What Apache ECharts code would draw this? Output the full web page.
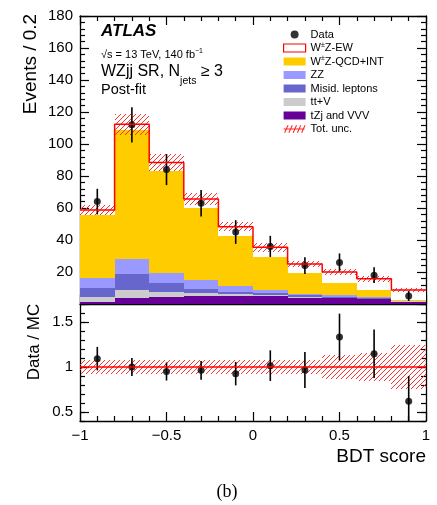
<!DOCTYPE html>
<html>
<head>
<meta charset="utf-8">
<script src="https://cdn.jsdelivr.net/npm/echarts@6/dist/echarts.min.js"></script>
<style>
  html, body { margin: 0; padding: 0; background: #fff; }
  #chart { width: 437px; height: 505px; }
</style>
</head>
<body>
<div id="chart"></div>
<script>
// ---- Binning of the BDT score ----
const binEdges = [-1, -0.8, -0.6, -0.4, -0.2, 0, 0.2, 0.4, 0.6, 0.8, 1];

// ---- Post-fit expected yields per bin (stacked bottom to top) ----
const tzjVVV  = [1.5, 3.5, 4.4, 5.0, 5.2, 5.0, 4.0, 3.7, 3.1, 1.5];
const ttV     = [3.1, 5.2, 2.9, 1.7, 1.0, 0.6, 0.3, 0.3, 0.2, 0.1];
const misid   = [5.4, 9.8, 5.6, 2.5, 1.5, 1.1, 1.1, 0.6, 0.4, 0.1];
const zz      = [6.5, 9.4, 6.3, 5.8, 3.5, 2.0, 1.1, 0.8, 0.5, 0.2];
const wzQCD   = [39.1, 80.9, 64.1, 44.8, 31.3, 20.9, 12.7, 7.9, 4.8, 0.9];
const wzEW    = [3.2, 3.6, 5.2, 5.8, 5.8, 5.8, 5.8, 6.7, 6.8, 5.95];
const totUnc  = [3.3, 6.5, 5.4, 3.7, 2.8, 2.6, 2.1, 1.8, 1.9, 1.25];

// ---- Observed data ----
const dataCounts = [64, 112, 84, 63, 45, 36, 24, 26, 18, 5];
const dataErr    = [8, 11, 9.7, 8.3, 7.4, 6.6, 5.2, 5.6, 4.9, 3.1];

// ---- Ratio panel ----
const ratioVals   = [1.093, 1.0, 0.95, 0.963, 0.926, 1.015, 0.967, 1.333, 1.148, 0.62];
const ratioErr    = [0.13, 0.1, 0.1, 0.105, 0.13, 0.17, 0.2, 0.26, 0.27, 0.28];
const ratioUncRel = [0.075, 0.075, 0.075, 0.075, 0.075, 0.075, 0.075, 0.13, 0.16, 0.245];

// ---- Axis tick labels ----
const xTickLabels = [-1, -0.5, 0, 0.5, 1];
const ratioTickLabels = [0.5, 1, 1.5];

const FONT = 'Liberation Sans, Arial, Helvetica, sans-serif';
const COLORS = {
  tzj: '#660099', ttv: '#cccccc', misid: '#6666cc', zz: '#9999ff',
  qcd: '#ffcc00', ew: '#ffffff', red: '#ff0000'
};

// Diagonal red hatch used for the uncertainty bands
function makeHatch() {
  const c = document.createElement('canvas');
  c.width = 5; c.height = 5;
  const g = c.getContext('2d');
  g.strokeStyle = '#ff3030';
  g.lineWidth = 1;
  g.beginPath();
  g.moveTo(0, 5); g.lineTo(5, 0);
  g.moveTo(-1, 1); g.lineTo(1, -1);
  g.moveTo(4, 6); g.lineTo(6, 4);
  g.stroke();
  return c;
}
const hatch = { image: makeHatch(), repeat: 'repeat' };

// Build stacked rectangles [x0, x1, yLow, yHigh] for each component
const components = [tzjVVV, ttV, misid, zz, wzQCD, wzEW];
const nBins = binEdges.length - 1;
const stackedRects = [];
const base = new Array(nBins).fill(0);
components.forEach(vals => {
  const rows = [];
  for (let i = 0; i < nBins; i++) {
    rows.push([binEdges[i], binEdges[i + 1], base[i], base[i] + vals[i]]);
    base[i] += vals[i];
  }
  stackedRects.push(rows);
});
const totals = base.slice();

const uncRects = totals.map((t, i) => [binEdges[i], binEdges[i + 1], t - totUnc[i], t + totUnc[i]]);
const totalStep = totals.map((t, i) => [binEdges[i], t]).concat([[binEdges[nBins], totals[nBins - 1]]]);
const centers = totals.map((t, i) => (binEdges[i] + binEdges[i + 1]) / 2);
const dataPts = dataCounts.map((v, i) => [centers[i], v]);
const dataBars = dataCounts.map((v, i) => [centers[i], v - dataErr[i], v + dataErr[i]]);
const ratioPts = ratioVals.map((v, i) => [centers[i], v]);
const ratioBars = ratioVals.map((v, i) => [centers[i], v - ratioErr[i], v + ratioErr[i]]);
const ratioBand = ratioUncRel.map((u, i) => [binEdges[i], binEdges[i + 1], 1 - u, 1 + u]);

function rectRenderer(fill) {
  return function (params, api) {
    const a = api.coord([api.value(0), api.value(3)]);
    const b = api.coord([api.value(1), api.value(2)]);
    const x0 = Math.round(a[0]), x1 = Math.round(b[0]);
    const y0 = Math.round(a[1]), y1 = Math.round(b[1]);
    return { type: 'rect', shape: { x: x0, y: y0, width: x1 - x0, height: y1 - y0 }, style: { fill: fill } };
  };
}
function errorBarRenderer(params, api) {
  const lo = api.coord([api.value(0), api.value(1)]);
  const hi = api.coord([api.value(0), api.value(2)]);
  return { type: 'line', shape: { x1: lo[0], y1: lo[1], x2: hi[0], y2: hi[1] },
           style: { stroke: '#000', lineWidth: 1.6 } };
}

const compNames = ['tZj and VVV', 'tt+V', 'Misid. leptons', 'ZZ', 'W\u00b1Z-QCD+INT', 'W\u00b1Z-EW'];
const compColors = [COLORS.tzj, COLORS.ttv, COLORS.misid, COLORS.zz, COLORS.qcd, COLORS.ew];

const series = [];
stackedRects.forEach((rows, k) => {
  series.push({
    name: compNames[k], type: 'custom', xAxisIndex: 0, yAxisIndex: 0,
    renderItem: rectRenderer(compColors[k]), itemStyle: { color: compColors[k] },
    encode: { x: [0, 1], y: [2, 3] }, data: rows, silent: true
  });
});
series.push({
  name: 'Tot. unc.', type: 'custom', xAxisIndex: 0, yAxisIndex: 0,
  renderItem: rectRenderer(hatch), itemStyle: { color: COLORS.red },
  encode: { x: [0, 1], y: [2, 3] }, data: uncRects, silent: true
});
series.push({
  name: 'Total', type: 'line', xAxisIndex: 0, yAxisIndex: 0, step: 'end',
  data: totalStep, symbol: 'none', lineStyle: { color: COLORS.red, width: 1.5 }, silent: true
});
series.push({
  name: 'Data error', type: 'custom', xAxisIndex: 0, yAxisIndex: 0,
  renderItem: errorBarRenderer, encode: { x: 0, y: [1, 2] }, data: dataBars, silent: true
});
series.push({
  name: 'Data', type: 'scatter', xAxisIndex: 0, yAxisIndex: 0,
  data: dataPts, symbol: 'circle', symbolSize: 7, itemStyle: { color: '#000' }, silent: true
});
// Ratio panel
series.push({
  name: 'Ratio unc.', type: 'custom', xAxisIndex: 2, yAxisIndex: 2,
  renderItem: rectRenderer(hatch), encode: { x: [0, 1], y: [2, 3] }, data: ratioBand, silent: true, clip: true
});
series.push({
  name: 'Unity', type: 'line', xAxisIndex: 2, yAxisIndex: 2,
  data: [[-1, 1], [1, 1]], symbol: 'none', lineStyle: { color: COLORS.red, width: 1.5 }, silent: true
});
series.push({
  name: 'Ratio error', type: 'custom', xAxisIndex: 2, yAxisIndex: 2, clip: true,
  renderItem: errorBarRenderer, encode: { x: 0, y: [1, 2] }, data: ratioBars, silent: true
});
series.push({
  name: 'Ratio', type: 'scatter', xAxisIndex: 2, yAxisIndex: 2,
  data: ratioPts, symbol: 'circle', symbolSize: 7, itemStyle: { color: '#000' }, silent: true
});

const axisLine = { show: true, onZero: false, lineStyle: { color: '#000', width: 1.3 } };
const tickMajor = { show: true, inside: true, length: 9, lineStyle: { color: '#000', width: 1.2 } };
const tickMinor = { show: true, length: 5, lineStyle: { color: '#000', width: 1.2 } };
const labelStyle = { color: '#000', fontFamily: FONT, fontSize: 15 };

function fmtX(v) {
  if (Math.abs(v) < 1e-9) return '0';
  return v < 0 ? '\u2212' + String(Math.abs(v)) : String(v);
}

const xBase = { type: 'value', min: -1, max: 1, interval: 0.5, splitLine: { show: false },
  axisLine: axisLine, axisTick: tickMajor, minorTick: Object.assign({ splitNumber: 5 }, tickMinor) };

const xAxes = [
  Object.assign({}, xBase, { gridIndex: 0, position: 'bottom', axisLabel: { show: false } }),
  Object.assign({}, xBase, { gridIndex: 0, position: 'top', axisLabel: { show: false } }),
  Object.assign({}, xBase, { gridIndex: 1, position: 'bottom',
    axisLabel: Object.assign({ margin: 7, customValues: xTickLabels, formatter: fmtX }, labelStyle) })
];

const yUpper = { type: 'value', gridIndex: 0, min: 0, max: 180, interval: 20, splitLine: { show: false },
  axisLine: axisLine, axisTick: tickMajor, minorTick: Object.assign({ splitNumber: 5 }, tickMinor) };
const yRatioMajor = { type: 'value', gridIndex: 1, min: 0.4, max: 1.7, splitLine: { show: false },
  axisLine: axisLine, axisTick: Object.assign({ customValues: ratioTickLabels }, tickMajor) };
const yRatioMinor = { type: 'value', gridIndex: 1, min: 0.4, max: 1.7, interval: 0.1, splitLine: { show: false },
  axisLine: { show: false, onZero: false }, axisTick: Object.assign({ inside: true }, tickMinor), axisLabel: { show: false } };

const yAxes = [
  Object.assign({}, yUpper, { position: 'left',
    axisLabel: Object.assign({ margin: 7, formatter: v => (v === 0 ? '' : String(v)) }, labelStyle) }),
  Object.assign({}, yUpper, { position: 'right', axisLabel: { show: false } }),
  Object.assign({}, yRatioMajor, { position: 'left',
    axisLabel: Object.assign({ margin: 7, customValues: ratioTickLabels, formatter: v => String(v) }, labelStyle) }),
  Object.assign({}, yRatioMajor, { position: 'right', axisLabel: { show: false } }),
  Object.assign({}, yRatioMinor, { position: 'left' }),
  Object.assign({}, yRatioMinor, { position: 'right' })
];

const supRich = {
  sup: { fontSize: 7, verticalAlign: 'top', lineHeight: 7, fontFamily: FONT, color: '#000' }
};
const legendIconUnc = 'path://M0,3.4h22v1.2h-22z' +
  'M0.5,8l3.5,-8h1.2l-3.5,8z M5,8l3.5,-8h1.2l-3.5,8z M9.5,8l3.5,-8h1.2l-3.5,8z' +
  'M14,8l3.5,-8h1.2l-3.5,8z M18.5,8l3.5,-8h1.2l-3.5,8z';

const option = {
  animation: false,
  backgroundColor: '#fff',
  grid: [
    { left: 80, right: 11, top: 16, height: 288 },
    { left: 80, right: 11, top: 304, height: 117 }
  ],
  xAxis: xAxes,
  yAxis: yAxes,
  legend: {
    orient: 'vertical', left: 283, top: 28, padding: 0, itemWidth: 22, itemHeight: 8, itemGap: 0.5,
    selectedMode: false,
    textStyle: { fontSize: 11, color: '#000', fontFamily: FONT, lineHeight: 13, rich: supRich },
    formatter: name => name.replace('\u00b1', '{sup|\u00b1}'),
    data: [
      { name: 'Data', icon: 'circle', itemStyle: { color: '#000' } },
      { name: 'W\u00b1Z-EW', icon: 'rect', itemStyle: { color: '#fff', borderColor: COLORS.red, borderWidth: 1.2 } },
      { name: 'W\u00b1Z-QCD+INT', icon: 'rect', itemStyle: { color: COLORS.qcd, borderWidth: 0 } },
      { name: 'ZZ', icon: 'rect', itemStyle: { color: COLORS.zz, borderWidth: 0 } },
      { name: 'Misid. leptons', icon: 'rect', itemStyle: { color: COLORS.misid, borderWidth: 0 } },
      { name: 'tt+V', icon: 'rect', itemStyle: { color: COLORS.ttv, borderWidth: 0 } },
      { name: 'tZj and VVV', icon: 'rect', itemStyle: { color: COLORS.tzj, borderWidth: 0 } },
      { name: 'Tot. unc.', icon: legendIconUnc, itemStyle: { color: '#ff2020', borderWidth: 0 } }
    ]
  },
  graphic: [
    { type: 'text', left: 101, top: 23, style: { text: 'ATLAS', fontFamily: FONT, fontSize: 17,
      fontWeight: 'bold', fontStyle: 'italic', fill: '#000' } },
    { type: 'text', left: 101, top: 48, style: {
      text: '\u221As = 13 TeV, 140 fb{sup|\u22121}', fontFamily: FONT, fontSize: 11, lineHeight: 14, fill: '#000',
      rich: { sup: { fontSize: 7, lineHeight: 7, verticalAlign: 'top', fontFamily: FONT } } } },
    { type: 'text', left: 101, top: 57, style: {
      text: 'WZjj SR, N{sub|jets} \u2265 3', fontFamily: FONT, fontSize: 16, lineHeight: 30, fill: '#000',
      verticalAlign: 'top',
      rich: { sub: { fontSize: 10.5, lineHeight: 11, verticalAlign: 'bottom', fontFamily: FONT } } } },
    { type: 'text', left: 101, top: 82, style: { text: 'Post-fit', fontFamily: FONT, fontSize: 14.5, fill: '#000' } },
    { type: 'text', x: 31, y: 64, rotation: Math.PI / 2, style: { text: 'Events / 0.2', fontFamily: FONT,
      fontSize: 19, fill: '#000', align: 'center', verticalAlign: 'middle' } },
    { type: 'text', x: 34, y: 342, rotation: Math.PI / 2, style: { text: 'Data / MC', fontFamily: FONT,
      fontSize: 17, fill: '#000', align: 'center', verticalAlign: 'middle' } },
    { type: 'text', x: 426, y: 457, style: { text: 'BDT score', fontFamily: FONT, fontSize: 19,
      fill: '#000', align: 'right', verticalAlign: 'middle' } },
    { type: 'text', x: 227, y: 492, style: { text: '(b)', fontFamily: 'Liberation Serif, Times New Roman, serif',
      fontSize: 18, fill: '#000', align: 'center', verticalAlign: 'middle' } }
  ],
  series: series
};

const chart = echarts.init(document.getElementById('chart'), null, { renderer: 'canvas' });
chart.setOption(option);
</script>
</body>
</html>
